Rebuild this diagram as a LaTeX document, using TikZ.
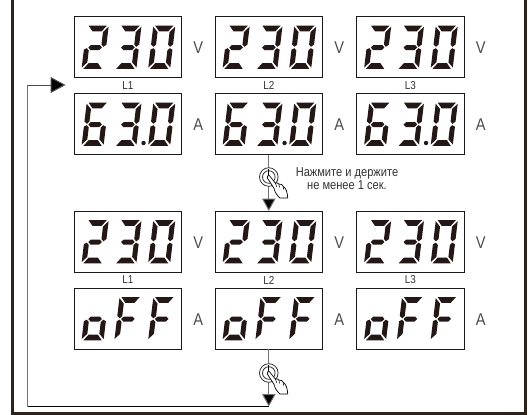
\documentclass[tikz,border=0pt]{standalone}
\usepackage{fontspec}
\usetikzlibrary{arrows.meta,calc}
\newfontfamily\narrowf[FakeStretch=0.86]{Liberation Sans}
\definecolor{seg}{HTML}{231815}
\definecolor{framec}{HTML}{2E211C}
\def\sega{\fill[seg] (1.8,0)--(20.2,0)--(15.6,5.8)--(6.4,5.8)--cycle;}
\def\segb{\fill[seg] (22,1.2)--(22,19)--(19.2,21.3)--(17,19)--(17,6.6)--cycle;}
\def\segc{\fill[seg] (22,24.2)--(22,42)--(17,36.8)--(17,25)--(19.2,22.7)--cycle;}
\def\segd{\fill[seg] (6.4,37.6)--(15.6,37.6)--(20.2,43.4)--(1.8,43.4)--cycle;}
\def\sege{\fill[seg] (0,24.2)--(2.8,22.7)--(5,25)--(5,36.8)--(0,42)--cycle;}
\def\segf{\fill[seg] (0,1.2)--(5,6.6)--(5,19)--(2.8,21.3)--(0,19)--cycle;}
\def\segg{\fill[seg] (4.2,22)--(6.6,19.5)--(15.4,19.5)--(17.8,22)--(15.4,24.5)--(6.6,24.5)--cycle;}
% \digit{box}{digit offset in x}{segments}
\newcommand{\digit}[3]{\begin{scope}[shift={(#1.north west)},shift={(#2,9)},xslant=0.12]
  \foreach \s in {#3}{\csname seg\s\endcsname}\end{scope}}
\newcommand{\three}[4]{\digit{#1}{12.7}{#2}\digit{#1}{45.5}{#3}\digit{#1}{79.3}{#4}}
\tikzset{
  x=1pt,y=-1pt,
  display/.style={draw=black!90,line width=0.85pt,fill=white,minimum width=107.5pt,minimum height=61pt,inner sep=0pt,outer sep=0pt},
  unit/.style={font=\narrowf\fontsize{17}{17}\selectfont,text=black!70,inner sep=0pt},
  phase/.style={font=\narrowf\fontsize{11.5}{11.5}\selectfont,text=black!80,inner sep=0pt},
  note/.style={font=\narrowf\fontsize{12.9}{13.5}\selectfont,text=black!80,inner sep=0pt,align=center},
  link/.style={draw=black!55,line width=1pt},
  tip/.style={-{Triangle[length=12.5pt,width=13.5pt,fill=black]}},
  bigtip/.style={-{Triangle[length=15pt,width=16pt,fill=black]}},
  knob/.style={circle,draw=black!80,line width=0.8pt,fill=white,minimum size=18.6pt,inner sep=0pt,outer sep=0pt},
}
\newcommand{\pressicon}[1]{%
  \draw[black!80,line width=0.8pt] (#1) circle (6.3);
  \draw[black,line width=1pt] ($(#1)+(0,-8)$) -- ($(#1)+(0,-1.5)$);
  \begin{scope}[shift={(#1)}]
  \filldraw[fill=white,draw=black,line width=0.7pt,line join=round]
    (0.5,-1.5) -- (6.5,6) .. controls (8,5.5) and (9,6) .. (10,7)
    .. controls (12,6.5) and (14,8) .. (15,10) .. controls (17,11) and (18.5,15) .. (19,21)
    -- (11,21) .. controls (8,18) and (6,15) .. (5,11) -- (-1.5,1) .. controls (-2,-1) and (-0.5,-2) .. (0.5,-1.5) -- cycle;
  \draw[black,line width=0.5pt] (6.5,6) -- (8,10) (10,7) -- (11,10.5) (15,10) -- (14.5,12.5);
  \end{scope}}
\begin{document}
\begin{tikzpicture}
\useasboundingbox (0,0) rectangle (528,415);
\fill[white] (0,0) rectangle (528,415);
% frame
\draw[framec,line width=3pt] (12.2,-3) -- (12.2,413.3) -- (525.5,413.3) -- (525.5,-3);
% displays
\foreach \n/\cx in {1/127.8,2/268.8,3/410.3}{
  \node[display] (va\n) at (\cx,47) {};
  \node[display] (aa\n) at (\cx,124) {};
  \node[display] (vb\n) at (\cx,241.5) {};
  \node[display] (ab\n) at (\cx,318.5) {};
  \three{va\n}{a,b,g,e,d}{a,b,g,c,d}{a,b,c,d,e,f}
  \three{aa\n}{a,c,d,e,f,g}{a,b,g,c,d}{a,b,c,d,e,f}
  \fill[seg] ($(aa\n.north west)+(69.5,49.5)$) circle (2.2);
  \three{vb\n}{a,b,g,e,d}{a,b,g,c,d}{a,b,c,d,e,f}
  \three{ab\n}{g,c,d,e}{a,e,f,g}{a,e,f,g}
  \node[unit] (vu\n) at ($(va\n.east)+(16.8,0.7)$) {V};
  \node[unit] (au\n) at ($(aa\n.east)+(16.8,1)$) {A};
  \node[unit] (vv\n) at ($(vb\n.east)+(16.8,0.7)$) {V};
  \node[unit] (uu\n) at ($(ab\n.east)+(16.8,1)$) {A};
  \node[phase] (la\n) at ($(va\n.south)!0.5!(aa\n.north)$) {L\n};
  \node[phase] (lb\n) at ($(vb\n.south)!0.5!(ab\n.north)$) {L\n};
}
% connectors
\coordinate (turn) at (ab2.south |- 0,406.5);
\coordinate (corner) at (27.7,406.5);
\coordinate (back) at (27.7,85);
\coordinate (entry) at (65.5,85);
\draw[link,tip] (aa2.south) -- (vb2.north);
\draw[link,tip] (ab2.south) -- (turn);
\draw[link] (corner) -- (back);
\draw[link,draw=black] (turn) -- (corner);
\draw[link,draw=black!70,bigtip] (back) -- (entry);
% press buttons
\node[knob] (pa) at (268.8,177) {};
\node[knob] (pb) at (268.8,373) {};
\pressicon{pa}
\pressicon{pb}
\node[note] (hint) at (347,178.5) {Нажмите и держите\\не менее 1 сек.};
\end{tikzpicture}
\end{document}
